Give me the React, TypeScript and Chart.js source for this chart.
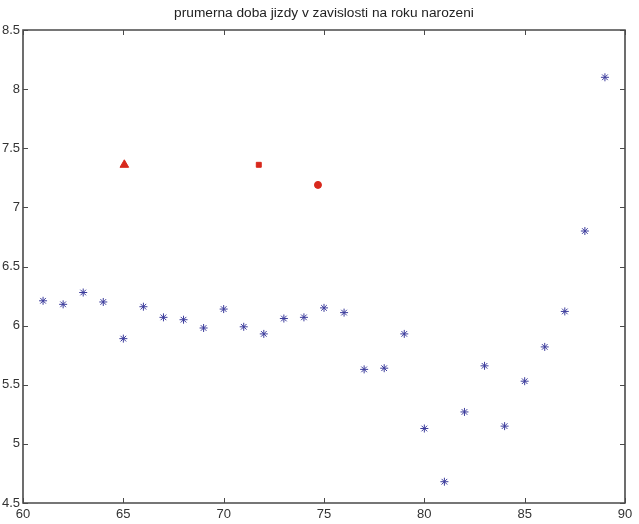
import React, { useEffect, useRef } from "react";
import { Chart, registerables } from "chart.js";
Chart.register(...registerables);

const chartTitle = "prumerna doba jizdy v zavislosti na roku narozeni";
const xTicks = [60, 65, 70, 75, 80, 85, 90];
const yTicks = [4.5, 5, 5.5, 6, 6.5, 7, 7.5, 8, 8.5];
const years = [61, 62, 63, 64, 65, 66, 67, 68, 69, 70, 71, 72, 73, 74, 75, 76, 77, 78, 79, 80, 81, 82, 83, 84, 85, 86, 87, 88, 89];
const avgDuration = [6.21, 6.18, 6.28, 6.2, 5.89, 6.16, 6.07, 6.05, 5.98, 6.14, 5.99, 5.93, 6.06, 6.07, 6.15, 6.11, 5.63, 5.64, 5.93, 5.13, 4.68, 5.27, 5.66, 5.15, 5.53, 5.82, 6.12, 6.8, 8.1];
const triangleX = [65.05];
const triangleY = [7.36];
const squareX = [71.75];
const squareY = [7.36];
const circleX = [74.7];
const circleY = [7.19];

const toPoints = (xs: number[], ys: number[]) => xs.map((x, i) => ({ x, y: ys[i] }));

const FONT = "'Liberation Sans', Arial, sans-serif";
const AXIS_COLOR = "#4a4a4a";
const LABEL_COLOR = "#333";
const RED = "#d8281c";

const boxPlugin = {
  id: "matlabBox",
  afterDraw(chart: any) {
    const { ctx, chartArea } = chart;
    const { left, right, top, bottom } = chartArea;
    const xs = chart.scales.x;
    const ys = chart.scales.y;
    ctx.save();
    ctx.strokeStyle = AXIS_COLOR;
    ctx.lineWidth = 1.6;
    ctx.beginPath();
    ctx.rect(left, top, right - left, bottom - top);
    ctx.stroke();
    ctx.lineWidth = 1;
    const len = 5;
    ctx.beginPath();
    xTicks.forEach((v) => {
      const px = Math.round(xs.getPixelForValue(v)) + 0.5;
      ctx.moveTo(px, bottom);
      ctx.lineTo(px, bottom - len);
      ctx.moveTo(px, top);
      ctx.lineTo(px, top + len);
    });
    yTicks.forEach((v) => {
      const py = Math.round(ys.getPixelForValue(v)) + 0.5;
      ctx.moveTo(left, py);
      ctx.lineTo(left + len, py);
      ctx.moveTo(right, py);
      ctx.lineTo(right - len, py);
    });
    ctx.stroke();
    ctx.fillStyle = "#222";
    ctx.font = `13.7px ${FONT}`;
    ctx.textAlign = "center";
    ctx.textBaseline = "middle";
    ctx.fillText(chartTitle, (left + right) / 2, 13);
    ctx.restore();
  },
};

export default function App() {
  const ref = useRef<HTMLCanvasElement>(null);
  useEffect(() => {
    if (!ref.current) return;
    const chart = new Chart(ref.current, {
      type: "scatter",
      data: {
        datasets: [
          {
            data: toPoints(years, avgDuration),
            pointStyle: "star",
            pointRadius: 4,
            borderColor: "#3c3c9c",
            backgroundColor: "#3c3c9c",
            borderWidth: 1,
          },
          {
            data: toPoints(triangleX, triangleY),
            pointStyle: "triangle",
            pointRadius: 5,
            borderColor: RED,
            backgroundColor: RED,
          },
          {
            data: toPoints(squareX, squareY),
            pointStyle: "rect",
            pointRadius: 3.5,
            borderColor: RED,
            backgroundColor: RED,
          },
          {
            data: toPoints(circleX, circleY),
            pointStyle: "circle",
            pointRadius: 3.5,
            borderColor: RED,
            backgroundColor: RED,
          },
        ],
      },
      options: {
        animation: false,
        responsive: false,
        layout: { padding: { top: 30, right: 14, left: 0, bottom: 0 } },
        plugins: { legend: { display: false }, tooltip: { enabled: false }, title: { display: false } },
        scales: {
          x: {
            type: "linear",
            min: 60,
            max: 90,
            afterBuildTicks: (s: any) => { s.ticks = xTicks.map((v) => ({ value: v })); },
            afterFit: (s: any) => { s.height = 21; },
            grid: { display: false, drawTicks: false },
            border: { display: false },
            ticks: { color: LABEL_COLOR, font: { family: FONT, size: 13 }, padding: 4, maxRotation: 0, callback: (v: any) => String(v) },
          },
          y: {
            type: "linear",
            min: 4.5,
            max: 8.5,
            afterBuildTicks: (s: any) => { s.ticks = yTicks.map((v) => ({ value: v })); },
            afterFit: (s: any) => { s.width = 23; },
            grid: { display: false, drawTicks: false },
            border: { display: false },
            ticks: { color: LABEL_COLOR, font: { family: FONT, size: 13 }, padding: 3, callback: (v: any) => String(v) },
          },
        },
      },
      plugins: [boxPlugin],
    });
    return () => chart.destroy();
  }, []);
  return (
    <div style={{ position: "absolute", left: 0, top: 0, width: 639, height: 524, background: "#fff" }}>
      <canvas ref={ref} width={639} height={524} style={{ width: 639, height: 524 }} />
    </div>
  );
}
